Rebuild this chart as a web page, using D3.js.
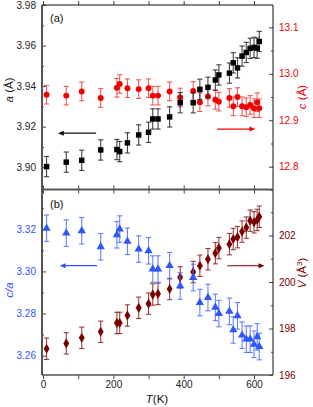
<!DOCTYPE html>
<html>
<head>
<meta charset="utf-8">
<script src="https://cdn.jsdelivr.net/npm/d3@7"></script>
<style>
  body { margin: 0; background: #fff; }
  svg { display: block; font-family: "Liberation Sans", Arial, sans-serif; }
</style>
</head>
<body>
<div class="chart"></div>
<script>
// temperature points (K)
var T = [10, 66, 110, 164, 210, 218, 240, 272, 300, 312, 327, 360, 390, 427, 446, 469, 490, 500, 530, 541, 553, 566, 578, 589, 600, 609, 615];
// lattice parameters
var aVal = [3.9003, 3.9025, 3.9034, 3.9085, 3.9087, 3.9077, 3.9120, 3.9159, 3.9172, 3.9238, 3.9238, 3.9248, 3.9318, 3.9318, 3.9384, 3.9394, 3.9430, 3.9455, 3.9464, 3.9515, 3.9490, 3.9548, 3.9566, 3.9586, 3.9591, 3.9587, 3.9620];
var cVal = [12.955, 12.953, 12.962, 12.948, 12.970, 12.978, 12.969, 12.967, 12.969, 12.953, 12.953, 12.962, 12.949, 12.963, 12.939, 12.951, 12.944, 12.940, 12.948, 12.930, 12.950, 12.930, 12.928, 12.933, 12.926, 12.939, 12.926];
var caVal = [3.3205, 3.3182, 3.3193, 3.3117, 3.3174, 3.3201, 3.3143, 3.3106, 3.3098, 3.3011, 3.3011, 3.3027, 3.2931, 3.2971, 3.2852, 3.2876, 3.2829, 3.2800, 3.2810, 3.2722, 3.2789, 3.2697, 3.2678, 3.2678, 3.2654, 3.2689, 3.2643];
var vVal = [197.13, 197.36, 197.60, 197.86, 198.24, 198.24, 198.56, 198.89, 199.07, 199.46, 199.49, 199.70, 200.20, 200.43, 200.70, 200.98, 201.24, 201.46, 201.63, 201.85, 201.93, 202.17, 202.34, 202.64, 202.57, 202.67, 202.81];
// error bars (half widths)
var aErr = 0.005, cErr = 0.02, caErr = 0.0063, vErr = 0.46;

// ticks
var xTicks = [0, 100, 200, 300, 400, 500, 600];
var xLabels = [0, 200, 400, 600];
var aTicks = [3.90, 3.92, 3.94, 3.96, 3.98];
var aMinor = [3.89, 3.91, 3.93, 3.95, 3.97];
var cTicks = [12.8, 12.9, 13.0, 13.1];
var cMinor = [12.75, 12.85, 12.95, 13.05];
var caTicks = [3.26, 3.28, 3.30, 3.32];
var caMinor = [3.27, 3.29, 3.31, 3.33];
var vTicks = [196, 198, 200, 202];
var vMinor = [197, 199, 201, 203];

// arrows: [T start, T end, value]
var arrowA = [151, 42, 3.9168];
var arrowC = [495, 604, 12.881];
var arrowCA = [154, 47, 3.3027];
var arrowV = [524, 630, 200.70];

var W = 313, H = 407;
var left = 42, right = 273, top1 = 5, mid = 189.5, bot = 375;

var svg = d3.select(".chart").append("svg")
    .attr("width", W)
    .attr("height", H);

var x = d3.scaleLinear().domain([-3, 654]).range([left, right]);
var ya = d3.scaleLinear().domain([3.889, 3.98]).range([mid, top1]);
var yc = d3.scaleLinear().domain([12.751, 13.148]).range([mid, top1]);
var yca = d3.scaleLinear().domain([3.2508, 3.3389]).range([bot, mid]);
var yv = d3.scaleLinear().domain([196, 203.98]).range([bot, mid]);

var red = "#f20000", blue = "#2f55ff", dred = "#7a0000";
var axisCol = "#444";

function styleAxis(g, col, labelCol) {
    g.select(".domain").remove();
    g.selectAll(".tick line").attr("stroke", col).attr("stroke-width", 1);
    g.selectAll(".tick text")
        .attr("fill", labelCol)
        .style("font-size", "10px")
        .style("font-family", "'Liberation Sans', Arial, sans-serif");
}

// vertical axes with inward ticks
function yAxes(scale, major, minor, side, labelCol, fmt) {
    var xpos = side == "left" ? left : right;
    var mk = side == "left" ? d3.axisLeft : d3.axisRight;
    svg.append("g")
        .attr("transform", "translate(" + xpos + ",0)")
        .call(mk(scale).tickValues(major).tickSize(-4).tickPadding(6).tickFormat(fmt))
        .call(styleAxis, axisCol, labelCol);
    svg.append("g")
        .attr("transform", "translate(" + xpos + ",0)")
        .call(mk(scale).tickValues(minor).tickSize(-2).tickFormat(""))
        .call(styleAxis, axisCol, labelCol);
}

yAxes(ya, aTicks, aMinor, "left", "#222", d3.format(".2f"));
yAxes(yc, cTicks, cMinor, "right", red, d3.format(".1f"));
yAxes(yca, caTicks, caMinor, "left", blue, d3.format(".2f"));
yAxes(yv, vTicks, vMinor, "right", dred, d3.format("d"));

// horizontal ticks: top, both sides of separator, bottom
function xTickRow(ypos, dir) {
    svg.append("g")
        .attr("transform", "translate(0," + ypos + ")")
        .call((dir < 0 ? d3.axisBottom : d3.axisTop)(x).tickValues(xTicks).tickSize(-4).tickFormat(""))
        .call(styleAxis, axisCol, "#222");
}
xTickRow(top1, -1);
xTickRow(mid, 1);
xTickRow(mid, -1);
xTickRow(bot, 1);

svg.append("g")
    .attr("transform", "translate(0," + bot + ")")
    .call(d3.axisBottom(x).tickValues(xLabels).tickSize(0).tickPadding(6).tickFormat(d3.format("d")))
    .call(styleAxis, axisCol, "#222");

// frame
svg.append("line").attr("x1", left).attr("x2", right).attr("y1", top1).attr("y2", top1)
    .attr("stroke", "#111").attr("stroke-width", 1);
svg.append("line").attr("x1", right).attr("x2", right).attr("y1", top1).attr("y2", bot)
    .attr("stroke", "#111").attr("stroke-width", 1);
svg.append("line").attr("x1", left).attr("x2", left).attr("y1", top1).attr("y2", bot)
    .attr("stroke", "#555").attr("stroke-width", 2);
svg.append("line").attr("x1", left).attr("x2", right).attr("y1", mid).attr("y2", mid)
    .attr("stroke", "#555").attr("stroke-width", 2);
svg.append("line").attr("x1", left).attr("x2", right).attr("y1", bot).attr("y2", bot)
    .attr("stroke", "#555").attr("stroke-width", 1.5);

// error bars + markers
function series(vals, err, yScale, col, barCol, shape, size) {
    var g = svg.append("g");
    var data = T.map(function(t, i) { return {t: t, v: vals[i]}; });
    var bars = g.selectAll(".eb").data(data).enter().append("g")
        .attr("stroke", barCol).attr("stroke-width", 1.1).attr("stroke-opacity", 0.85);
    bars.append("line")
        .attr("x1", function(d) { return x(d.t); })
        .attr("x2", function(d) { return x(d.t); })
        .attr("y1", function(d) { return yScale(d.v - err); })
        .attr("y2", function(d) { return yScale(d.v + err); });
    [-1, 1].forEach(function(s) {
        bars.append("line")
            .attr("x1", function(d) { return x(d.t) - 2.6; })
            .attr("x2", function(d) { return x(d.t) + 2.6; })
            .attr("y1", function(d) { return yScale(d.v + s * err); })
            .attr("y2", function(d) { return yScale(d.v + s * err); });
    });
    var sym = d3.symbol().type(shape).size(size);
    g.selectAll(".pt").data(data).enter().append("path")
        .attr("d", sym)
        .attr("fill", col)
        .attr("transform", function(d) { return "translate(" + x(d.t) + "," + yScale(d.v) + ")"; });
}

series(cVal, cErr, yc, red, "#f04040", d3.symbolCircle, 28);
series(aVal, aErr, ya, "#000", "#222", d3.symbolSquare, 30);
series(vVal, vErr, yv, dred, "#8a2020", d3.symbolDiamond, 30);
series(caVal, caErr, yca, blue, "#4a6cff", d3.symbolTriangle, 30);

// arrows
function arrow(spec, yScale, col) {
    var x1 = x(spec[0]), x2 = x(spec[1]), yy = yScale(spec[2]);
    var d = x2 > x1 ? 1 : -1;
    svg.append("line")
        .attr("x1", x1).attr("x2", x2 - d * 4).attr("y1", yy).attr("y2", yy)
        .attr("stroke", col).attr("stroke-width", 1.2);
    svg.append("path")
        .attr("d", "M" + x2 + "," + yy + "L" + (x2 - d * 6) + "," + (yy - 2.5) +
            "L" + (x2 - d * 6) + "," + (yy + 2.5) + "Z")
        .attr("fill", col);
}
arrow(arrowA, ya, "#111");
arrow(arrowC, yc, red);
arrow(arrowCA, yca, blue);
arrow(arrowV, yv, dred);

// panel labels
svg.append("text").attr("x", 50).attr("y", 22).style("font-size", "11px").attr("fill", "#111").text("(a)");
svg.append("text").attr("x", 50).attr("y", 208).style("font-size", "11px").attr("fill", "#111").text("(b)");

// axis titles
function yTitle(xp, yp, col, parts) {
    var t = svg.append("text")
        .attr("transform", "translate(" + xp + "," + yp + ") rotate(-90)")
        .attr("text-anchor", "middle")
        .style("font-size", "11.5px")
        .attr("fill", col);
    parts.forEach(function(p) {
        var s = t.append("tspan").text(p[0]);
        if (p[1] == "i") s.style("font-style", "italic");
        if (p[1] == "sup") s.attr("dy", -4).style("font-size", "8px");
        if (p[1] == "after") s.attr("dy", 4);
    });
}
yTitle(13, 90, "#222", [["a", "i"], [" (Å)"]]);
yTitle(306, 97, red, [["c", "i"], [" (Å)"]]);
yTitle(13, 290, blue, [["c/a", "i"]]);
yTitle(306, 273, dred, [["V", "i"], [" (Å"], ["3", "sup"], [")", "after"]]);

var xt = svg.append("text").attr("x", 157).attr("y", 403)
    .attr("text-anchor", "middle").style("font-size", "11.5px").attr("fill", "#111");
xt.append("tspan").style("font-style", "italic").text("T");
xt.append("tspan").text("(K)");
</script>
</body>
</html>
